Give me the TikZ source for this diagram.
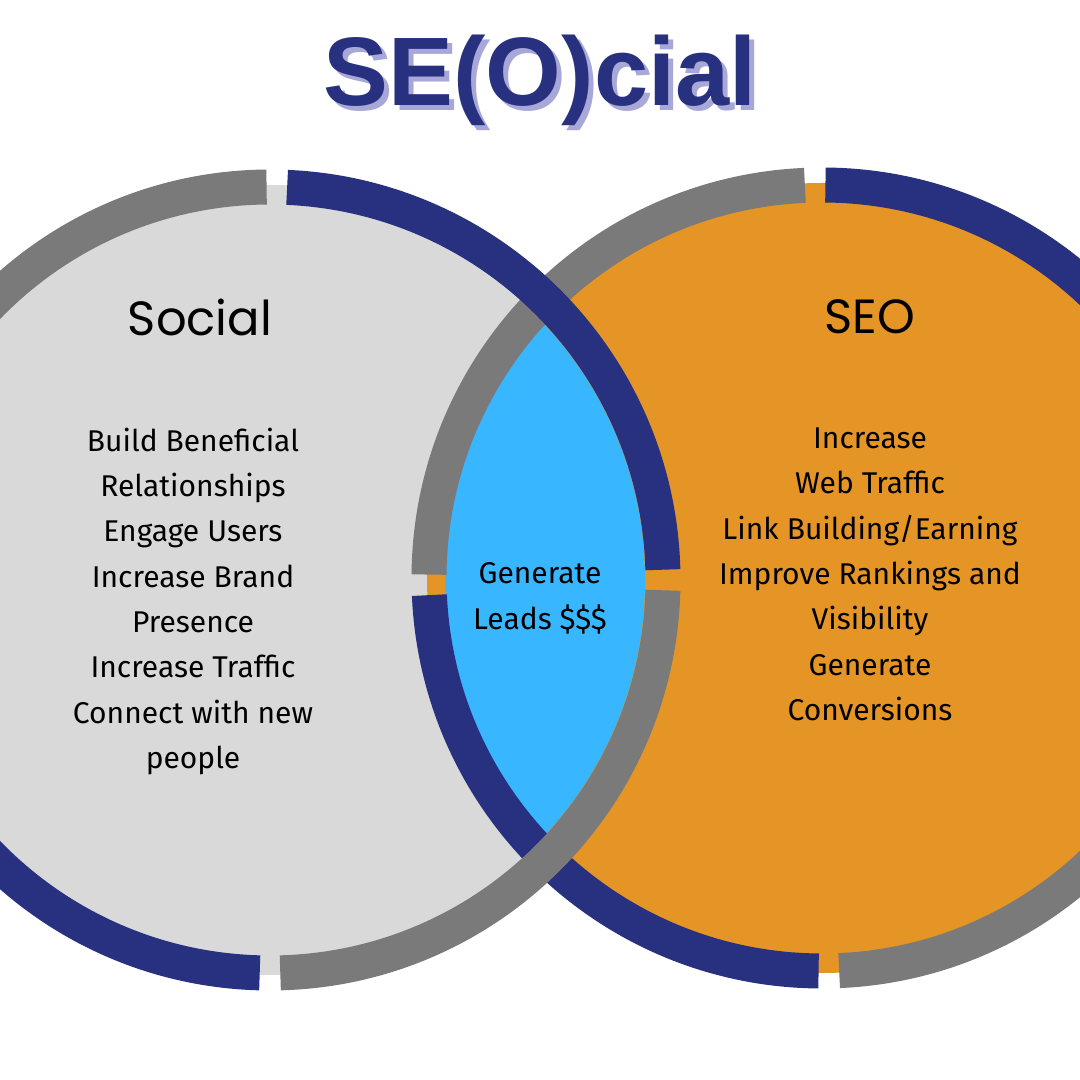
\documentclass[tikz,border=0pt]{standalone}
\usepackage{fontspec}
\setmainfont{Fira Sans}
\newfontfamily\titlefont{Liberation Sans}
\newfontfamily\headfont{Poppins}
\definecolor{navy}{HTML}{283080}
\definecolor{ringgray}{HTML}{7A7A7A}
\definecolor{lightfill}{HTML}{D9D9D9}
\definecolor{orangefill}{HTML}{E59525}
\definecolor{lensblue}{HTML}{38B6FF}
\definecolor{shadow}{HTML}{A8A8D8}
\begin{document}
\begin{tikzpicture}[x=0.75pt,y=0.75pt,
  ringstyle/.style={line width=26.25pt},
  itemtext/.style={font=\fontsize{22.5}{34}\selectfont,align=center,text=black},
  headtext/.style={font=\headfont\fontsize{36}{40}\selectfont,text=black}]
\useasboundingbox (0,0) rectangle (1080,1080);
\fill[white] (0,0) rectangle (1080,1080);
\coordinate (L) at (270,500);
\coordinate (R) at (822,502);
% fills
\fill[lightfill] (L) circle (395);
\fill[orangefill] (R) circle (395);
\begin{scope}
  \clip (L) circle (375);
  \fill[lensblue] (R) circle (377);
\end{scope}
% right ring
\draw[ringstyle,ringgray] ([shift={(92.5:393)}]R) arc (92.5:179.5:393);
\draw[ringstyle,navy] ([shift={(182.5:393)}]R) arc (182.5:269.5:393);
\draw[ringstyle,ringgray] ([shift={(272.5:393)}]R) arc (272.5:358.5:393);
\draw[ringstyle,navy] ([shift={(1.5:393)}]R) arc (1.5:89.5:393);
% left ring
\draw[ringstyle,navy] ([shift={(1.5:393)}]L) arc (1.5:87.5:393);
\draw[ringstyle,ringgray] ([shift={(90.5:393)}]L) arc (90.5:178.5:393);
\draw[ringstyle,navy] ([shift={(181.5:393)}]L) arc (181.5:268.5:393);
\draw[ringstyle,ringgray] ([shift={(271.5:393)}]L) arc (271.5:358.5:393);
% title
\node[font=\titlefont\bfseries\fontsize{73}{80}\selectfont,text=shadow] (tshadow) at (545,995) {SE(O)cial};
\node[font=\titlefont\bfseries\fontsize{73}{80}\selectfont,text=navy] (title) at (540,1000) {SE(O)cial};
% headings
\node[headtext] (social) at (200,763) {Social};
\node[headtext] (seo) at (870,763) {SEO};
% lists
\node[itemtext,anchor=north] (leftlist) at (193,657) {Build Beneficial\\Relationships\\Engage Users\\Increase Brand\\Presence\\Increase Traffic\\Connect with new\\people};
\node[itemtext,anchor=north] (rightlist) at (870,657) {Increase\\Web Traffic\\Link Building/Earning\\Improve Rankings and\\Visibility\\Generate\\Conversions};
\node[itemtext,anchor=north] (lens) at (540,522) {Generate\\Leads \$\$\$};
\end{tikzpicture}
\end{document}
